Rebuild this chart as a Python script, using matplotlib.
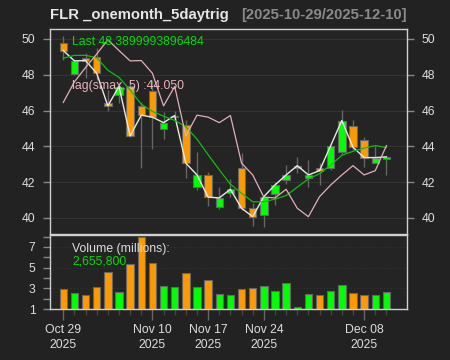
import matplotlib
matplotlib.use("Agg")
import matplotlib.pyplot as plt
import numpy as np

# ---------------- data ----------------
dates = ["2025-10-29", "2025-10-30", "2025-10-31", "2025-11-03", "2025-11-04",
         "2025-11-05", "2025-11-06", "2025-11-07", "2025-11-10", "2025-11-11",
         "2025-11-12", "2025-11-13", "2025-11-14", "2025-11-17", "2025-11-18",
         "2025-11-19", "2025-11-20", "2025-11-21", "2025-11-24", "2025-11-25",
         "2025-11-26", "2025-11-28", "2025-12-01", "2025-12-02", "2025-12-03",
         "2025-12-04", "2025-12-05", "2025-12-08", "2025-12-09", "2025-12-10"]

opens = [49.76, 48.04, 48.96, 49.01, 46.44, 46.87, 47.37, 46.26, 47.09, 44.95,
         45.62, 45.20, 41.75, 42.40, 40.60, 41.41, 42.78, 40.54, 40.15, 41.34,
         42.12, 42.78, 42.22, 42.81, 42.78, 43.70, 45.16, 44.36, 43.09, 43.28]
highs = [50.17, 48.85, 49.23, 49.48, 47.15, 47.60, 47.70, 46.50, 47.71, 45.94,
         45.95, 45.47, 43.70, 42.59, 41.75, 42.16, 43.61, 40.82, 41.28, 42.03,
         42.96, 43.42, 43.24, 43.06, 44.10, 46.03, 45.47, 44.51, 44.02, 43.46]
lows = [48.83, 47.98, 47.80, 47.71, 45.99, 46.40, 44.50, 42.78, 43.84, 44.40,
        45.50, 42.22, 41.56, 40.67, 40.49, 41.16, 40.45, 39.55, 39.48, 40.73,
        41.88, 42.50, 41.75, 41.84, 42.70, 43.52, 43.80, 42.87, 43.06, 42.40]
closes = [49.35, 48.77, 48.79, 48.08, 46.26, 47.34, 44.58, 45.74, 45.63, 45.32,
          45.72, 43.06, 42.40, 41.16, 41.12, 41.60, 40.54, 40.07, 41.19, 41.84,
          42.40, 42.92, 42.40, 42.64, 44.04, 45.44, 43.95, 43.37, 43.37, 43.41]
sma5 = [48.92, 49.08, 49.08, 48.95, 48.25, 47.85, 47.15, 46.35, 45.95, 45.68,
        45.45, 45.10, 44.40, 43.53, 42.69, 41.88, 41.38, 40.90, 40.90, 41.05,
        41.25, 41.72, 42.18, 42.47, 42.95, 43.50, 43.72, 43.90, 44.04, 43.93]
lag5 = [46.45, 47.60, 48.40, 49.15, 49.95, 49.35, 48.77, 48.79, 48.08, 46.26,
        47.34, 44.58, 45.74, 45.63, 45.32, 45.72, 43.06, 42.40, 41.16, 41.12,
        41.60, 40.54, 40.07, 41.19, 41.84, 42.40, 42.92, 42.40, 42.64, 44.04]
volume_m = [2.90, 2.52, 2.32, 3.16, 4.60, 2.68, 5.32, 7.94, 5.42, 3.23,
            3.10, 4.45, 3.10, 3.84, 2.48, 2.39, 2.90, 3.03, 3.19, 2.77,
            3.48, 1.19, 2.48, 2.35, 2.74, 3.35, 2.55, 2.32, 2.32, 2.656]

label_idx = [0, 8, 13, 18, 27]
label_txt = ["Oct 29\n2025", "Nov 10\n2025", "Nov 17\n2025", "Nov 24\n2025", "Dec 08\n2025"]
week_idx = [0, 3, 8, 13, 18, 22, 27]

price_ticks = [40, 42, 44, 46, 48, 50]
vol_ticks = [1, 3, 5, 7]

title_main = "FLR _onemonth_5daytrig"
title_range = "[2025-10-29/2025-12-10]"
last_txt = "Last 48.3899993896484"
lag_txt = "lag(smax, 5) :44.050"
vol_txt = "Volume (millions):"
vol_last_txt = "2,655,800"

# ---------------- style ----------------
BG = "#222222"
PANEL = "#242424"
UP = "#00ff00"
DN = "#ff9900"
EDGE = "#666666"
BORDER = "#d0d0d0"
GRID = "#333333"
TXT = "#dddddd"
FONT = "Liberation Sans"

plt.rcParams["font.family"] = [FONT, "DejaVu Sans"]

W, H = 450, 360
fig = plt.figure(figsize=(W / 100, H / 100), dpi=100, facecolor=BG)


def fx(px):
    return px / W


def fy(py):
    return 1 - py / H


x = np.arange(len(closes))
o = np.array(opens)
c = np.array(closes)
colors = [UP if cc >= oo else DN for oo, cc in zip(o, c)]

ax = fig.add_axes([fx(50), fy(233.5), fx(406.7) - fx(50), fy(28.5) - fy(233.5)], facecolor=PANEL)
axv = fig.add_axes([fx(50), fy(309), fx(406.7) - fx(50), fy(235) - fy(309)], facecolor=PANEL)

xlim = (-1.19, 30.82)

# ---------- price panel ----------
for t in price_ticks:
    ax.axhline(t, color=GRID, lw=0.8, zorder=0)
ax.vlines(x, lows, highs, color=EDGE, lw=1, zorder=1)
bottoms = np.minimum(o, c)
heights = np.maximum(np.abs(c - o), 0.04)
ax.bar(x, heights, bottom=bottoms, width=0.66, color=colors, edgecolor=EDGE, lw=0.8, zorder=2)
ax.plot(x, closes, color="#e8e8e8", lw=1, zorder=3)
ax.plot(x, sma5, color="#11bb11", lw=0.9, zorder=4)
ax.plot(x, lag5, color="#e0b0b8", lw=0.9, zorder=4)

ax.set_xlim(*xlim)
ax.set_ylim(39.13, 50.58)
ax.set_yticks(price_ticks)
ax.set_xticks([])
ax.tick_params(axis="y", left=True, right=True, labelleft=True, labelright=True,
               length=5, width=1, color="#888888", labelcolor=TXT, labelsize=8.8, pad=5.5)
for sp in ax.spines.values():
    sp.set_color(BORDER)
    sp.set_linewidth(1)

fig.text(fx(72), fy(42), last_txt, color="#00dd00", fontsize=8.8, va="center", ha="left")
fig.text(fx(72), fy(85.5), lag_txt, color="#e8b4bc", fontsize=8.8, va="center", ha="left")

# ---------- volume panel ----------
for t in vol_ticks:
    axv.axhline(t, color=GRID, lw=0.8, ls=(0, (1, 2)), zorder=0)
axv.bar(x, volume_m, width=0.66, color=colors, edgecolor=EDGE, lw=0.8, zorder=2)
axv.set_xlim(*xlim)
axv.set_ylim(1.0, 8.16)
axv.set_yticks(vol_ticks)
axv.set_yticks([2, 4, 6, 8], minor=True)
axv.tick_params(axis="y", which="both", left=True, right=False, length=5, width=1,
                color="#888888", labelcolor=TXT, labelsize=8.8, pad=5.5)
axv.set_xticks(label_idx)
axv.set_xticklabels(label_txt, linespacing=1.35)
axv.set_xticks(sorted(set(x) - set(label_idx)), minor=True)
axv.tick_params(axis="x", which="major", length=8, width=1, color="#666666",
                labelcolor=TXT, labelsize=8.8, pad=3)
axv.tick_params(axis="x", which="minor", length=4, width=1, color="#444444")
for sp in axv.spines.values():
    sp.set_color(BORDER)
    sp.set_linewidth(1)

fig.text(fx(72), fy(249), vol_txt, color=TXT, fontsize=8.8, va="center", ha="left")
fig.text(fx(72), fy(262), vol_last_txt, color="#00dd00", fontsize=8.8, va="center", ha="left")

# ---------- title ----------
fig.text(fx(50), fy(19.5), title_main, color="#e6e6e6", fontsize=10.7, fontweight="bold",
         va="baseline", ha="left")
fig.text(fx(406.7), fy(19.5), title_range, color="#8a8a8a", fontsize=10.7, fontweight="bold",
         va="baseline", ha="right")

fig.savefig("out.png", dpi=100, facecolor=BG)
